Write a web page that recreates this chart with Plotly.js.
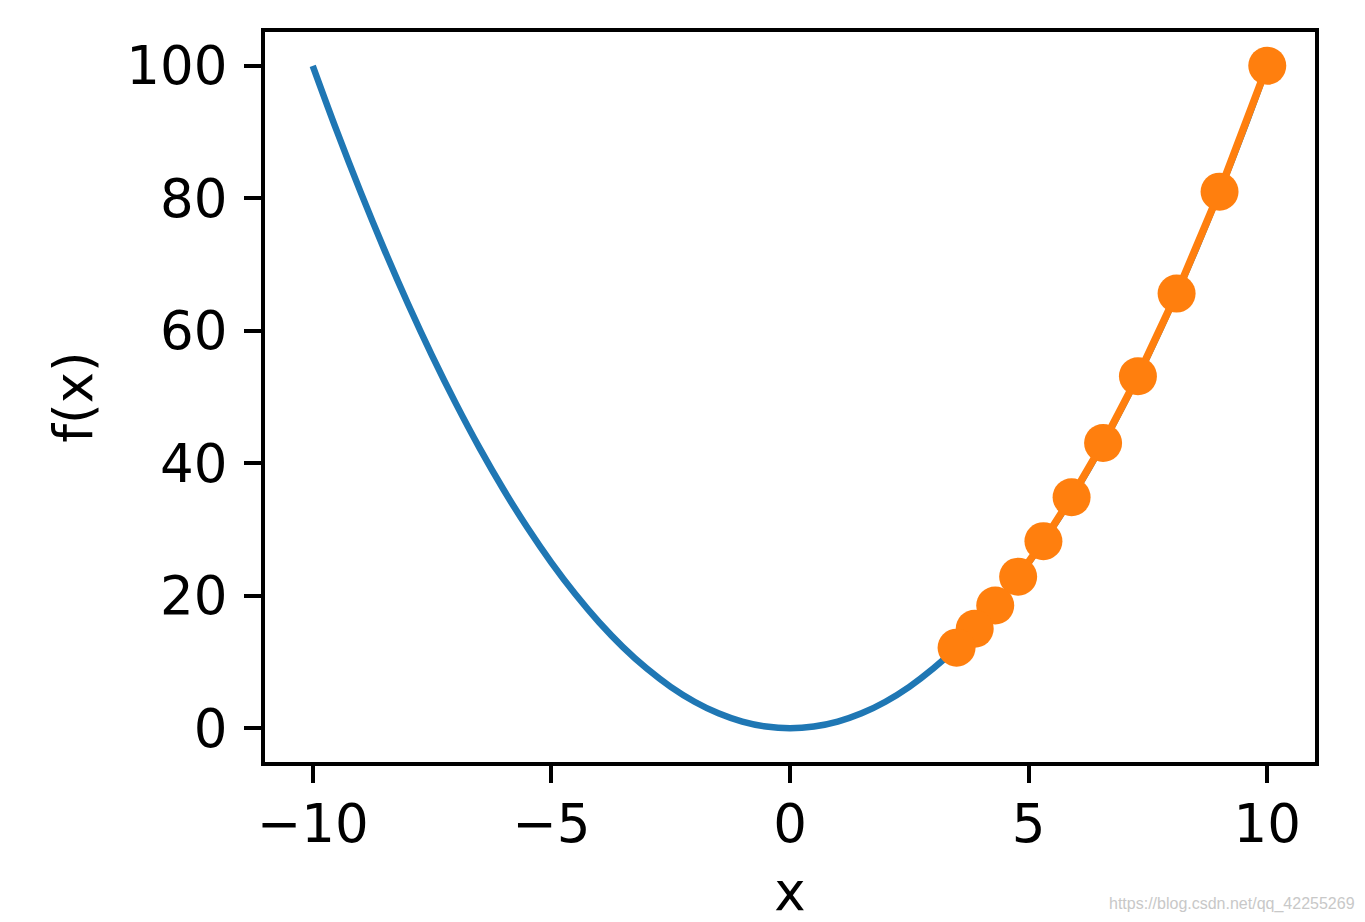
<!DOCTYPE html>
<html>
<head>
<meta charset="utf-8">
<script src="https://cdn.plot.ly/plotly-3.0.1.min.js"></script>
<style>html,body{margin:0;padding:0;background:#fff;}#chart{width:1365px;height:922px;}</style>
</head>
<body>
<div id="chart"></div>
<script>
// f(x) = x^2 curve
const curveX = [-10,-9.5,-9,-8.5,-8,-7.5,-7,-6.5,-6,-5.5,-5,-4.5,-4,-3.5,-3,-2.5,-2,-1.5,-1,-0.5,0,0.5,1,1.5,2,2.5,3,3.5,4,4.5,5,5.5,6,6.5,7,7.5,8,8.5,9,9.5,10];
const curveY = [100,90.25,81,72.25,64,56.25,49,42.25,36,30.25,25,20.25,16,12.25,9,6.25,4,2.25,1,0.25,0,0.25,1,2.25,4,6.25,9,12.25,16,20.25,25,30.25,36,42.25,49,56.25,64,72.25,81,90.25,100];
// gradient-descent trajectory
const traceX = [10, 9, 8.1, 7.29, 6.56, 5.9, 5.31, 4.78, 4.3, 3.87, 3.49];
const traceY = [100, 81, 65.61, 53.14, 43.05, 34.87, 28.24, 22.88, 18.53, 15.01, 12.16];
const xTicks = [-10, -5, 0, 5, 10];
const xTickText = ['\u221210', '\u22125', '0', '5', '10'];
const yTicks = [0, 20, 40, 60, 80, 100];

const font = {family: 'DejaVu Sans', size: 53, color: '#000'};
const data = [
  {x: curveX, y: curveY, type: 'scatter', mode: 'lines',
   line: {color: '#1f77b4', width: 6.5, shape: 'spline'}, hoverinfo: 'none'},
  {x: traceX, y: traceY, type: 'scatter', mode: 'lines+markers',
   line: {color: '#ff7f0e', width: 7.5},
   marker: {color: '#ff7f0e', size: 38}, hoverinfo: 'none'}
];
const axisCommon = {showgrid: false, zeroline: false, showline: true, linecolor: '#000', linewidth: 4,
  mirror: true, ticks: 'outside', ticklen: 17, tickwidth: 4, tickcolor: '#000', tickfont: font};
const layout = {
  width: 1365, height: 922,
  margin: {l: 265, r: 50, t: 32, b: 160},
  paper_bgcolor: '#fff', plot_bgcolor: '#fff',
  showlegend: false,
  font: font,
  xaxis: Object.assign({}, axisCommon, {range: [-11, 11], tickvals: xTicks, ticktext: xTickText,
    ticklabelstandoff: -5, title: {text: 'x', font: font, standoff: 26}}),
  yaxis: Object.assign({}, axisCommon, {range: [-5.1, 105.1], tickvals: yTicks, ticklabelstandoff: 6,
    title: {text: 'f(x)', font: font, standoff: 18}}),
  annotations: [{text: 'https://blog.csdn.net/qq_42255269', xref: 'paper', yref: 'paper',
    x: 1.04, y: -0.195, xanchor: 'right', yanchor: 'middle', showarrow: false,
    font: {family: 'Liberation Sans', size: 16, color: '#c8c8c8'}}]
};
Plotly.newPlot('chart', data, layout, {displayModeBar: false, staticPlot: true});
</script>
</body>
</html>
